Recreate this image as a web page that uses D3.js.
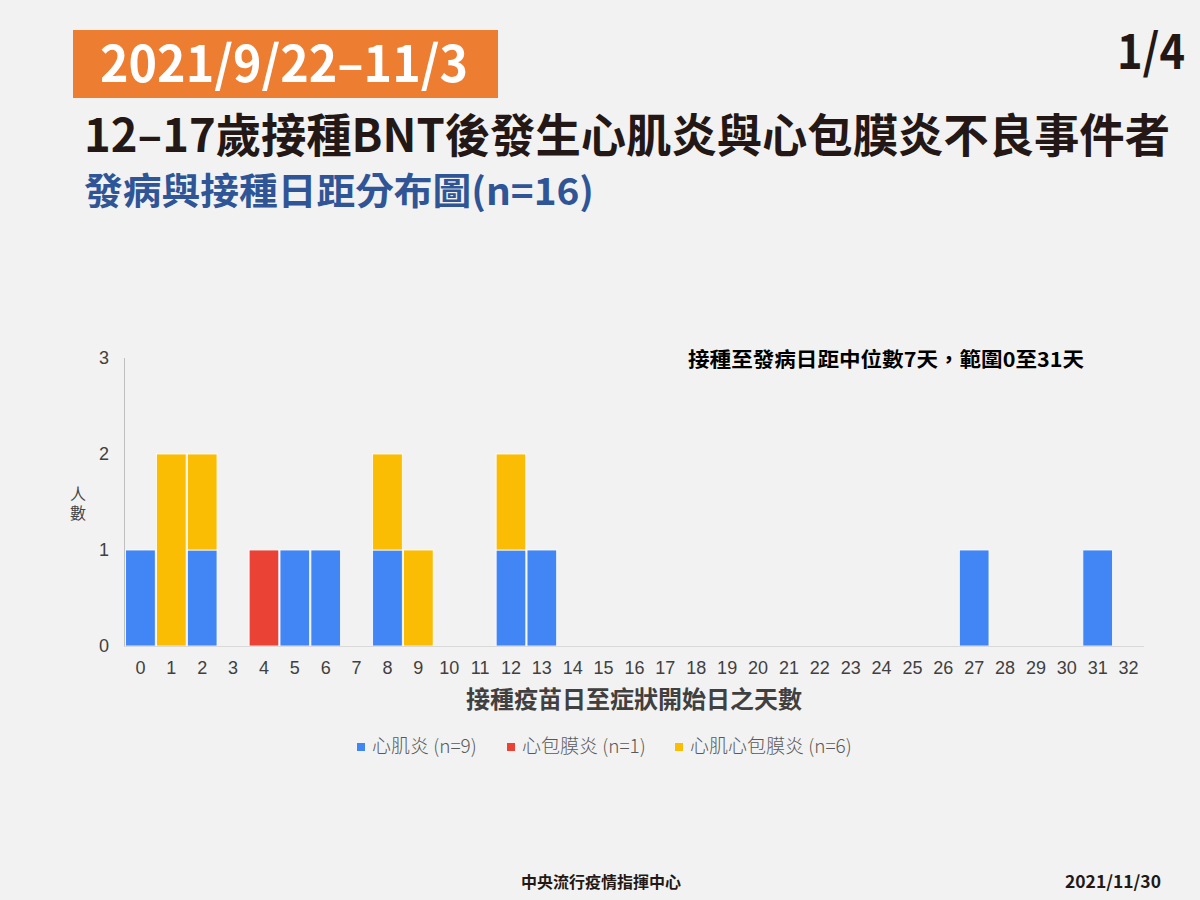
<!DOCTYPE html>
<html><head><meta charset="utf-8">
<script src="https://cdn.jsdelivr.net/npm/d3@7"></script>
<style>
html,body{margin:0;padding:0;background:#f2f2f2;}
svg{display:block;}
</style></head>
<body>
<svg id="c" width="1200" height="900"></svg>
<script>
// ---- data ----
const days = [0,1,2,3,4,5,6,7,8,9,10,11,12,13,14,15,16,17,18,19,20,21,22,23,24,25,26,27,28,29,30,31,32];
const myocarditis   = [1,0,1,0,0,1,1,0,1,0,0,0,1,1,0,0,0,0,0,0,0,0,0,0,0,0,0,1,0,0,0,1,0];
const pericarditis  = [0,0,0,0,1,0,0,0,0,0,0,0,0,0,0,0,0,0,0,0,0,0,0,0,0,0,0,0,0,0,0,0,0];
const myoPericarditis = [0,2,1,0,0,0,0,0,1,1,0,0,1,0,0,0,0,0,0,0,0,0,0,0,0,0,0,0,0,0,0,0,0];
const seriesNames = ["心肌炎 (n=9)", "心包膜炎 (n=1)", "心肌心包膜炎 (n=6)"];
const seriesColors = ["#4285f4", "#ea4335", "#fbbc04"];
const yTicks = [0,1,2,3];

const CJK = "'Noto Sans CJK TC','Noto Sans CJK SC',sans-serif";
const LAT = "'Liberation Sans',Arial,sans-serif";

const svg = d3.select("#c");
svg.append("rect").attr("width",1200).attr("height",900).attr("fill","#f2f2f2");

// ---- header ----
svg.append("rect").attr("x",73).attr("y",30).attr("width",425).attr("height",68).attr("fill","#ed7d31");
svg.append("text").attr("x",100).attr("y",82).attr("fill","#fff")
  .attr("font-family",CJK).attr("font-weight",700).attr("font-size",50)
  .attr("textLength",368).attr("lengthAdjust","spacingAndGlyphs")
  .text("2021/9/22–11/3");
svg.append("text").attr("x",1185).attr("y",69).attr("text-anchor","end").attr("fill","#231815")
  .attr("font-family",CJK).attr("font-weight",700).attr("font-size",48)
  .attr("textLength",68).attr("lengthAdjust","spacingAndGlyphs")
  .text("1/4");
svg.append("text").attr("x",84).attr("y",152).attr("fill","#231815")
  .attr("font-family",CJK).attr("font-weight",700).attr("font-size",46)
  .attr("textLength",1086).attr("lengthAdjust","spacingAndGlyphs")
  .text("12–17歲接種BNT後發生心肌炎與心包膜炎不良事件者");
svg.append("text").attr("x",84).attr("y",205).attr("fill","#2f5597")
  .attr("font-family",CJK).attr("font-weight",700).attr("font-size",37)
  .attr("textLength",510).attr("lengthAdjust","spacingAndGlyphs")
  .text("發病與接種日距分布圖(n=16)");

// ---- chart ----
const x = d3.scaleBand().domain(days).range([125,1144]).paddingInner(0.04).paddingOuter(0.02);
const y = d3.scaleLinear().domain([0,3]).range([646,358]);

const rows = days.map((d,i)=>({day:d, s0:myocarditis[i], s1:pericarditis[i], s2:myoPericarditis[i]}));
const stacked = d3.stack().keys(["s0","s1","s2"])(rows);

svg.append("line").attr("x1",124.5).attr("x2",124.5).attr("y1",y(3)).attr("y2",y(0))
  .attr("stroke","#bfbfbf").attr("stroke-width",1);

const g = svg.append("g");
stacked.forEach((layer,k)=>{
  g.selectAll(null).data(layer.filter(d=>d[1]-d[0]>0)).enter().append("rect")
    .attr("x",d=>x(d.data.day))
    .attr("width",x.bandwidth())
    .attr("y",d=>y(d[1]))
    .attr("height",d=>y(d[0])-y(d[1]))
    .attr("fill",seriesColors[k])
    .attr("stroke","#ffffff").attr("stroke-width",0.8);
});

svg.append("line").attr("x1",124).attr("x2",1144).attr("y1",646.5).attr("y2",646.5)
  .attr("stroke","#d9d9d9").attr("stroke-width",1);

// y axis ticks
const yAxis = d3.axisLeft(y).tickValues(yTicks).tickSize(0).tickPadding(0).tickFormat(d3.format("d"));
const yg = svg.append("g").attr("transform","translate(109,0)").call(yAxis);
yg.select(".domain").remove();
yg.selectAll("text").attr("font-family",LAT).attr("font-size",18).attr("fill","#404040").attr("text-anchor","end");

// x axis ticks
const xAxis = d3.axisBottom(x).tickSize(0).tickPadding(0);
const xg = svg.append("g").attr("transform","translate(0,661)").call(xAxis);
xg.select(".domain").remove();
xg.selectAll("text").attr("font-family",LAT).attr("font-size",18).attr("fill","#404040");

// axis titles
svg.append("text").attr("x",634).attr("y",708).attr("text-anchor","middle").attr("fill","#404040")
  .attr("font-family",CJK).attr("font-weight",700).attr("font-size",24)
  .text("接種疫苗日至症狀開始日之天數");
svg.append("text").attr("x",78).attr("y",486)
  .attr("fill","#444").attr("font-family",CJK).attr("font-size",16)
  .style("writing-mode","vertical-rl").attr("letter-spacing",3)
  .text("人數");

// annotation
svg.append("text").attr("x",1084).attr("y",367).attr("text-anchor","end").attr("fill","#000")
  .attr("font-family",CJK).attr("font-weight",700).attr("font-size",20)
  .attr("textLength",396).attr("lengthAdjust","spacingAndGlyphs")
  .text("接種至發病日距中位數7天，範圍0至31天");

// legend
const legendX = [357, 507, 675];
const lg = svg.append("g");
seriesNames.forEach((n,i)=>{
  lg.append("rect").attr("x",legendX[i]).attr("y",743).attr("width",8).attr("height",8).attr("fill",seriesColors[i]);
  lg.append("text").attr("x",legendX[i]+15).attr("y",753).attr("fill","#595959")
    .attr("font-family",CJK).attr("font-weight",300).attr("font-size",19).text(n);
});

// footer
svg.append("text").attr("x",601).attr("y",888).attr("text-anchor","middle").attr("fill","#231815")
  .attr("font-family",CJK).attr("font-weight",700).attr("font-size",16)
  .text("中央流行疫情指揮中心");
svg.append("text").attr("x",1161).attr("y",888).attr("text-anchor","end").attr("fill","#231815")
  .attr("font-family",CJK).attr("font-weight",700).attr("font-size",17)
  .attr("textLength",96).attr("lengthAdjust","spacingAndGlyphs")
  .text("2021/11/30");
</script>
</body></html>
